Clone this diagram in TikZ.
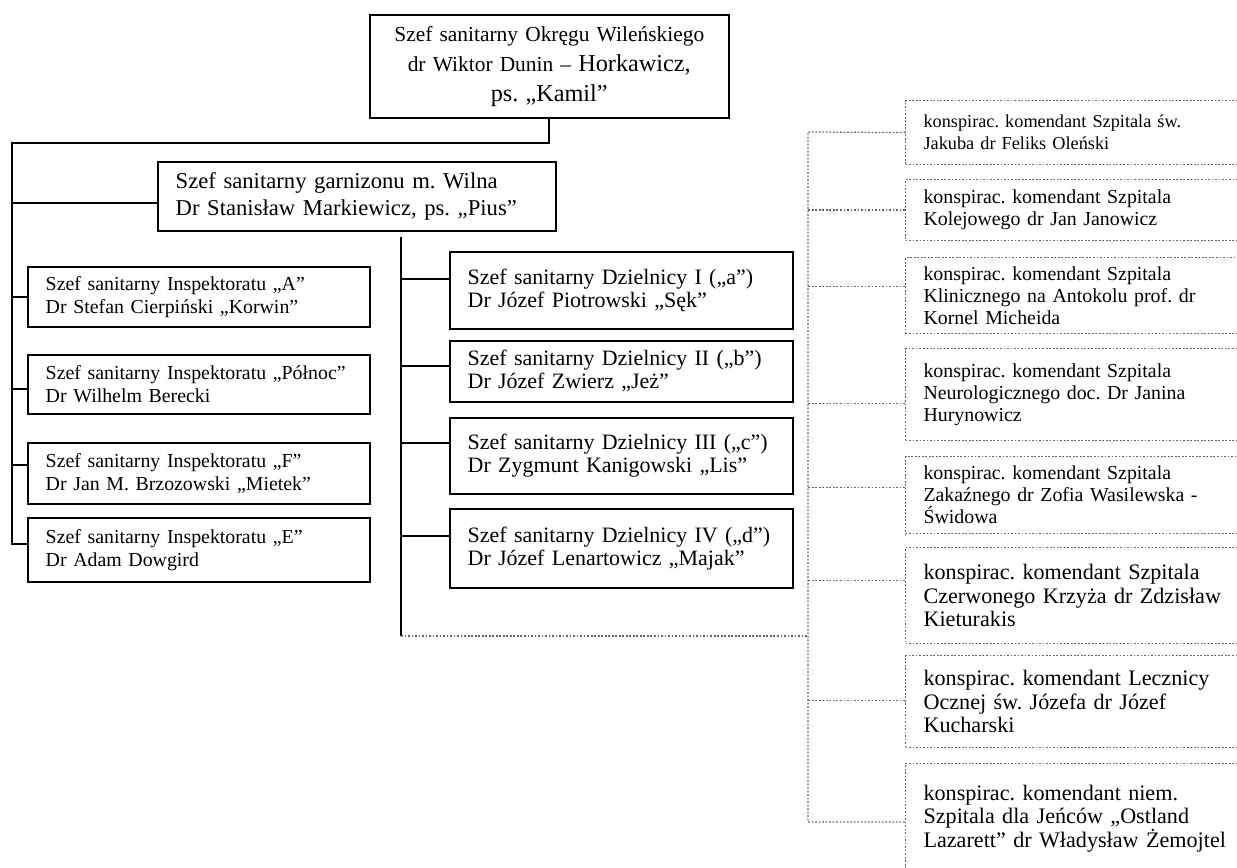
\documentclass[tikz,border=0pt]{standalone}
\usepackage{fontspec}
\setmainfont{Liberation Serif}
\usetikzlibrary{calc}
\frenchspacing

\tikzset{
  solidbox/.style={draw, line width=0.9pt, anchor=north west, align=left, inner xsep=10.2pt, inner ysep=0pt},
  dotbox/.style={draw=black!60, line width=0.7pt, dash pattern=on 1pt off 1pt, anchor=north west, align=left, inner xsep=10.2pt, inner ysep=0pt},
  conn/.style={line width=0.9pt},
  dotline/.style={black!60, line width=0.7pt, dash pattern=on 1pt off 1pt},
  inspbox/.style={solidbox, minimum width=6.84cm, text width=174.2pt, font=\fontsize{11.3}{13}\selectfont},
  dzbox/.style={solidbox, minimum width=6.86cm, text width=174.8pt, font=\fontsize{12.5}{13.1}\selectfont},
  szpbox/.style={dotbox, minimum width=7.14cm, text width=182.8pt, font=\fontsize{11.3}{12.5}\selectfont},
  szpduzy/.style={szpbox, font=\fontsize{12.6}{13.4}\selectfont}
}

\begin{document}
\begin{tikzpicture}[x=0.02cm, y=-0.02cm]
    \useasboundingbox (0,0) rectangle (1237,868);
    % gora
    \node[solidbox, align=center, minimum width=7.18cm, minimum height=2.06cm, text width=183.9pt, font=\fontsize{12.2}{17}\selectfont] (okreg) at (369,14) {Szef sanitarny Okręgu Wileńskiego\\dr Wiktor Dunin – {\fontsize{13.8}{17}\selectfont Horkawicz,}\\{\fontsize{13.8}{17}\selectfont ps. „Kamil”}};
    \node[solidbox, minimum width=7.96cm, minimum height=1.38cm, text width=206.1pt, font=\fontsize{12.9}{15.4}\selectfont] (garn) at (157,161) {Szef sanitarny garnizonu m. Wilna\\Dr Stanisław Markiewicz, ps. „Pius”};
    % inspektoraty
    \node[inspbox, minimum height=1.2cm] (inspA) at (27,266) {Szef sanitarny Inspektoratu „A”\\Dr Stefan Cierpiński „Korwin”};
    \node[inspbox, minimum height=1.18cm] (inspN) at (27,354) {Szef sanitarny Inspektoratu „Północ”\\Dr Wilhelm Berecki};
    \node[inspbox, minimum height=1.22cm] (inspF) at (27,442) {Szef sanitarny Inspektoratu „F”\\Dr Jan M. Brzozowski „Mietek”};
    \node[inspbox, minimum height=1.28cm] (inspE) at (27,517) {Szef sanitarny Inspektoratu „E”\\Dr Adam Dowgird};
    % dzielnice
    \node[dzbox, minimum height=1.54cm] (dz1) at (449,251) {Szef sanitarny Dzielnicy I („a”)\\Dr Józef Piotrowski „Sęk”};
    \node[dzbox, minimum height=1.22cm] (dz2) at (449,340) {Szef sanitarny Dzielnicy II („b”)\\Dr Józef Zwierz „Jeż”};
    \node[dzbox, minimum height=1.52cm] (dz3) at (449,417) {Szef sanitarny Dzielnicy III („c”)\\Dr Zygmunt Kanigowski „Lis”};
    \node[dzbox, minimum height=1.58cm] (dz4) at (449,508) {Szef sanitarny Dzielnicy IV („d”)\\Dr Józef Lenartowicz „Majak”};
    % szpitale
    \node[szpbox, minimum height=1.28cm, font=\fontsize{10.4}{12.5}\selectfont] (szp1) at (905,100) {konspirac. komendant Szpitala św.\\Jakuba dr Feliks Oleński};
    \node[szpbox, minimum height=1.22cm] (szp2) at (905,179) {konspirac. komendant Szpitala\\Kolejowego dr Jan Janowicz};
    \node[szpbox, minimum height=1.52cm] (szp3) at (905,257) {konspirac. komendant Szpitala\\Klinicznego na Antokolu prof. dr\\Kornel Micheida};
    \node[szpbox, minimum height=1.84cm] (szp4) at (905,348) {konspirac. komendant Szpitala\\Neurologicznego doc. Dr Janina\\Hurynowicz};
    \node[szpbox, minimum height=1.54cm] (szp5) at (905,456) {konspirac. komendant Szpitala\\Zakaźnego dr Zofia Wasilewska -\\Świdowa};
    \node[szpduzy, minimum height=1.92cm] (szp6) at (905,547) {konspirac. komendant Szpitala\\Czerwonego Krzyża dr Zdzisław\\Kieturakis};
    \node[szpduzy, minimum height=1.84cm] (szp7) at (905,655) {konspirac. komendant Lecznicy\\Ocznej św. Józefa dr Józef\\Kucharski};
    \node[szpduzy, minimum height=2.2cm] (szp8) at (905,763) {konspirac. komendant niem.\\Szpitala dla Jeńców „Ostland\\Lazarett” dr Władysław Żemojtel};
    % linie
    \coordinate (ltop) at (12,143);
    \coordinate (mtop) at (401,237);
    \coordinate (mbot) at (401,636);
    \coordinate (rtop) at (808,132);
    \coordinate (rbot) at (808,822);
    \draw[conn] (okreg.south) |- (ltop) |- ($(inspE.west)+(0,-6)$);
    \foreach \n/\d in {garn/6.5, inspA/0, inspN/4.5, inspF/-8.5} {
        \path (\n.west) ++(0,\d) coordinate (s);
        \draw[conn] (s) -- (s -| ltop);
    }
    \draw[conn] (mtop) -- (mbot);
    \foreach \n/\d in {dz1/-11.5, dz2/-5.5, dz3/-13, dz4/-12.5} {
        \path (\n.west) ++(0,\d) coordinate (s);
        \draw[conn] (s) -- (s -| mtop);
    }
    \draw[dotline] (mbot) -- (mbot -| rtop);
    \draw[dotline] (szp1.west) -- (rtop) -- (rbot) -- (rbot -| szp8.west);
    \foreach \n/\d in {szp2/0, szp3/-9, szp4/9, szp5/-7.5, szp6/-15, szp7/-1} {
        \path (\n.west) ++(0,\d) coordinate (s);
        \draw[dotline] (s) -- (s -| rtop);
    }
\end{tikzpicture}
\end{document}
